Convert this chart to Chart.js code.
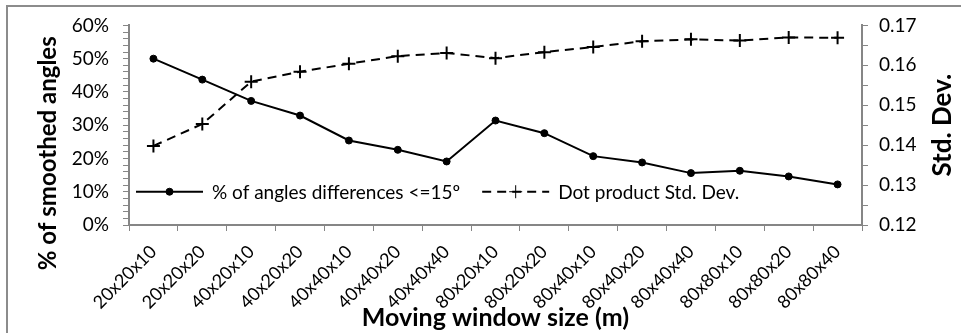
<!DOCTYPE html>
<html>
<head>
<meta charset="utf-8">
<script src="https://cdn.jsdelivr.net/npm/chart.js@4/dist/chart.umd.min.js"></script>
<style>
  html, body { margin: 0; padding: 0; background: #fff; }
  #wrap { width: 961px; height: 333px; }
</style>
</head>
<body>
<div id="wrap"><canvas id="c" width="961" height="333"></canvas></div>
<script>
// Moving window sizes (m)
const categories = ['20x20x10','20x20x20','40x20x10','40x20x20','40x40x10','40x40x20','40x40x40',
  '80x20x10','80x20x20','80x40x10','80x40x20','80x40x40','80x80x10','80x80x20','80x80x40'];
// Share of angle differences <= 15º (fraction)
const smoothedShare = [0.500,0.437,0.373,0.329,0.254,0.226,0.191,0.314,0.276,0.207,0.188,0.156,0.163,0.146,0.122];
// Std. dev. of the dot product
const dotStdDev = [0.1398,0.1453,0.1559,0.1584,0.1604,0.1623,0.1631,0.1618,0.1633,0.1646,0.1660,0.1665,0.1662,0.1670,0.1669];
// Axis ranges and titles
const leftRange = [0, 0.6];
const rightRange = [0.12, 0.17];
const leftTitle = '% of smoothed angles';
const rightTitle = 'Std. Dev.';
const bottomTitle = 'Moving window size (m)';
const seriesNames = ['% of angles differences <=15º', 'Dot product Std. Dev.'];

const FONT = 'Lato, "Open Sans", sans-serif';
const AXIS = '#868686';
const TICK_SIZE = 19;

// Frame, axis titles and in-plot legend
const decorations = {
  id: 'decorations',
  beforeDraw(chart) {
    const ctx = chart.ctx;
    ctx.save();
    ctx.strokeStyle = '#8c8c8c';
    ctx.lineWidth = 2;
    ctx.beginPath();
    ctx.moveTo(7, chart.height);
    ctx.lineTo(7, 6);
    ctx.lineTo(chart.width, 6);
    ctx.stroke();
    ctx.restore();
  },
  afterDraw(chart) {
    const ctx = chart.ctx;
    const a = chart.chartArea;
    ctx.save();
    ctx.fillStyle = '#000';
    ctx.font = 'bold 24px ' + FONT;
    ctx.textAlign = 'center';
    ctx.textBaseline = 'middle';
    // left title
    ctx.save();
    ctx.translate(48, a.top + (a.bottom - a.top) / 2 + 28);
    ctx.rotate(-Math.PI / 2);
    ctx.fillText(leftTitle, 0, 0);
    ctx.restore();
    // right title
    ctx.font = 'bold 26px ' + FONT;
    ctx.save();
    ctx.translate(943, a.top + (a.bottom - a.top) / 2);
    ctx.rotate(-Math.PI / 2);
    ctx.fillText(rightTitle, 0, 0);
    ctx.restore();
    // bottom title
    ctx.font = 'bold 25px ' + FONT;
    ctx.textBaseline = 'alphabetic';
    ctx.fillText(bottomTitle, (a.left + a.right) / 2, 326);

    // legend inside the plot
    const y = chart.scales.y.getPixelForValue(0.1);
    ctx.font = TICK_SIZE + 'px ' + FONT;
    ctx.textAlign = 'left';
    ctx.textBaseline = 'middle';
    const ds = chart.data.datasets;
    let x = a.left + 7;
    ds.forEach((d, i) => {
      const len = 67;
      ctx.save();
      ctx.strokeStyle = d.borderColor;
      ctx.lineWidth = d.borderWidth;
      ctx.setLineDash(d.borderDash || []);
      ctx.beginPath();
      ctx.moveTo(x, y);
      ctx.lineTo(x + len, y);
      ctx.stroke();
      ctx.restore();
      Chart.helpers.drawPoint(ctx, {
        pointStyle: d.pointStyle, radius: d.pointRadius, rotation: 0,
        borderWidth: d.pointBorderWidth
      }, x + len / 2, y);
      ctx.fillStyle = '#000';
      ctx.fillText(d.label, x + len + 9, y + 1);
      x += len + 9 + ctx.measureText(d.label).width + 22;
    });
    ctx.restore();
  }
};

const pct = v => Math.round(v * 100);
const chart = new Chart(document.getElementById('c'), {
  type: 'line',
  data: {
    labels: categories,
    datasets: [
      {
        label: seriesNames[0], data: smoothedShare, yAxisID: 'y',
        borderColor: '#000', backgroundColor: '#000', borderWidth: 2,
        pointStyle: 'circle', pointRadius: 3.5, pointBorderWidth: 1,
        pointBackgroundColor: '#000', pointBorderColor: '#000', tension: 0
      },
      {
        label: seriesNames[1], data: dotStdDev, yAxisID: 'y2',
        borderColor: '#000', backgroundColor: '#000', borderWidth: 2, borderDash: [9, 6],
        pointStyle: 'cross', pointRadius: 6.5, pointBorderWidth: 2,
        pointBorderColor: '#000', tension: 0
      }
    ]
  },
  options: {
    responsive: false,
    animation: false,
    devicePixelRatio: 1,
    layout: { padding: { top: 23, left: 0, right: 0, bottom: 0 } },
    plugins: { legend: { display: false }, tooltip: { enabled: false }, title: { display: false } },
    scales: {
      x: {
        type: 'category', offset: true,
        grid: { display: true, offset: true, drawOnChartArea: false, tickLength: 6, color: AXIS, tickColor: AXIS },
        border: { color: AXIS, width: 2 },
        ticks: { minRotation: 45, maxRotation: 45, autoSkip: false, color: '#000', font: { family: FONT, size: 18 }, padding: 10 },
        afterFit(s) { s.height = 108; }
      },
      y: {
        position: 'left', min: leftRange[0], max: leftRange[1],
        grid: { display: true, drawOnChartArea: false, tickLength: 6, color: AXIS, tickColor: AXIS },
        border: { color: AXIS, width: 2 },
        ticks: {
          stepSize: 0.02, autoSkip: false, color: '#000', font: { family: FONT, size: TICK_SIZE }, padding: 14,
          callback: v => (Math.round(v * 100) % 10 === 0 ? pct(v) + '%' : '')
        },
        afterFit(s) { s.width = 129; }
      },
      y2: {
        position: 'right', min: rightRange[0], max: rightRange[1],
        grid: { display: true, drawOnChartArea: false, tickLength: 6, color: AXIS, tickColor: AXIS },
        border: { color: AXIS, width: 2 },
        ticks: {
          stepSize: 0.005, autoSkip: false, color: '#000', font: { family: FONT, size: TICK_SIZE }, padding: 11,
          callback: v => (Math.round(v * 1000) % 10 === 0 ? v.toFixed(2) : '')
        },
        afterFit(s) { s.width = 99; }
      }
    }
  },
  plugins: [decorations]
});
</script>
</body>
</html>
